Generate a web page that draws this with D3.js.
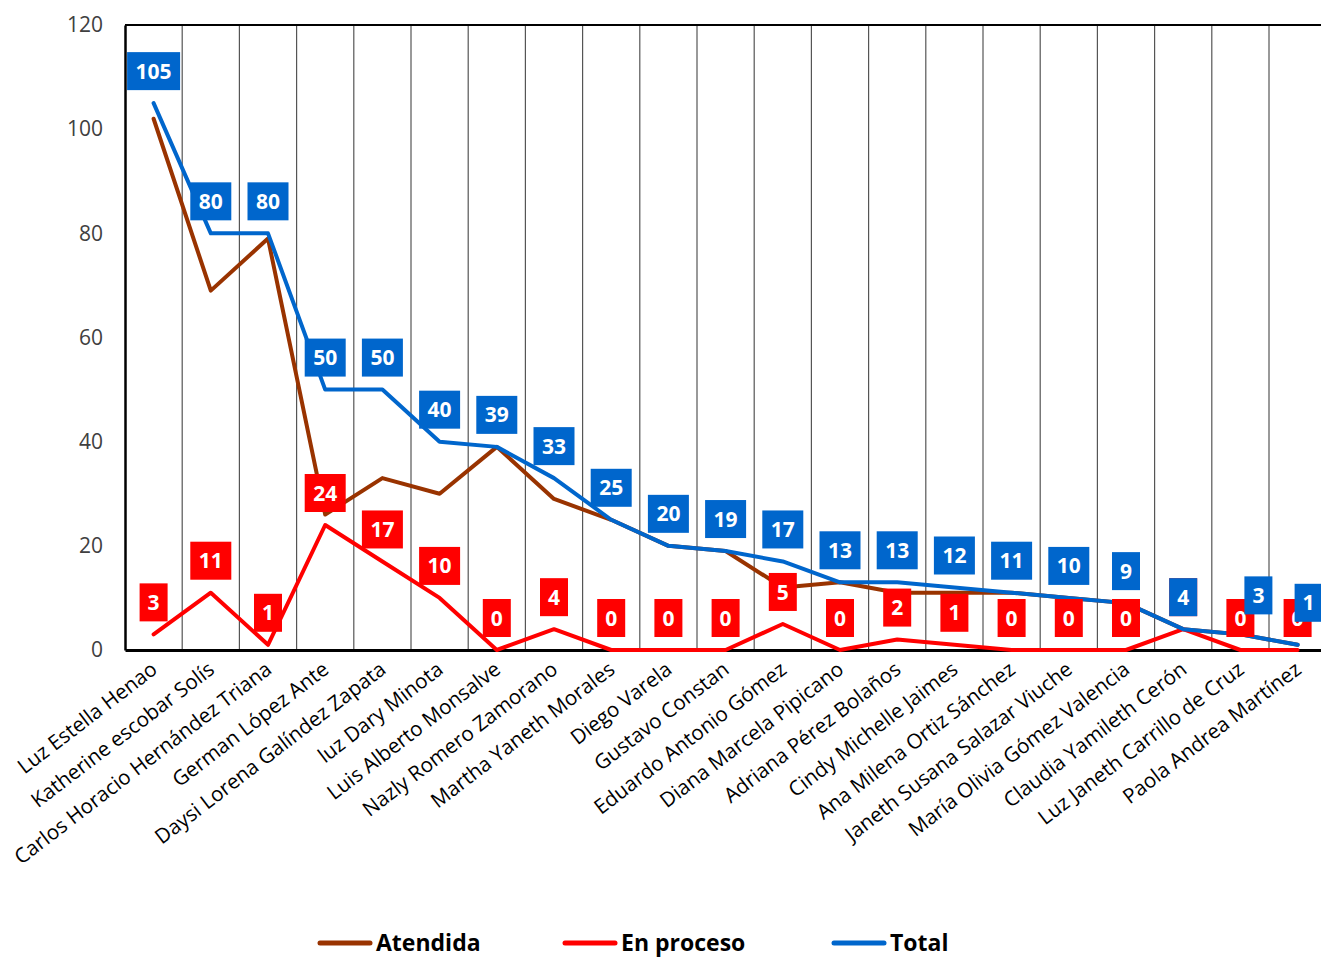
<!DOCTYPE html>
<html><head><meta charset="utf-8">
<script src="https://cdn.jsdelivr.net/npm/d3@7"></script>
<style>body{margin:0;background:#fff;} svg{display:block;font-family:"Open Sans",Lato,sans-serif;}</style>
</head><body>
<svg id="c" width="1321" height="957"></svg>
<script>
const categories = ["Luz Estella Henao","Katherine escobar Solís","Carlos Horacio Hernández Triana","German López Ante","Daysi Lorena Galíndez Zapata","luz Dary Minota","Luis Alberto Monsalve","Nazly Romero Zamorano","Martha Yaneth Morales","Diego Varela","Gustavo Constan","Eduardo Antonio Gómez","Diana Marcela Pipicano","Adriana Pérez Bolaños","Cindy Michelle Jaimes","Ana Milena Ortiz Sánchez","Janeth Susana Salazar Viuche","María Olivia Gómez Valencia","Claudia Yamileth Cerón","Luz Janeth Carrillo de Cruz","Paola Andrea Martínez"];
const atendida = [102,69,79,26,33,30,39,29,25,20,19,12,13,11,11,11,10,9,4,3,1];
const enProceso = [3,11,1,24,17,10,0,4,0,0,0,5,0,2,1,0,0,0,4,0,0];
const total = [105,80,80,50,50,40,39,33,25,20,19,17,13,13,12,11,10,9,4,3,1];
const yTicks = [0,20,40,60,80,100,120];
const seriesNames = ["Atendida","En proceso","Total"];
const colors = {"Atendida":"#993300","En proceso":"#FF0000","Total":"#0066CC"};

const svg = d3.select("#c");
const mLeft = 125, mTop = 25, mBottom = 650;
const step = 57.2;
const x = d3.scaleBand().domain(categories).range([mLeft, mLeft + step*categories.length]).padding(0);
const y = d3.scaleLinear().domain([0,120]).range([mBottom, mTop]);
const cx = c => x(c) + x.bandwidth()/2;

// vertical gridlines
svg.append("g").selectAll("line").data(categories.slice(1)).join("line")
  .attr("x1", d=>x(d)).attr("x2", d=>x(d)).attr("y1", mTop).attr("y2", mBottom)
  .attr("stroke", "#555").attr("stroke-width", 1.2);
// top border
svg.append("line").attr("x1", mLeft).attr("x2", 1321).attr("y1", mTop).attr("y2", mTop).attr("stroke","#000").attr("stroke-width",2);
// y axis
const ya = svg.append("g").attr("transform", `translate(${mLeft},0)`).call(d3.axisLeft(y).tickValues(yTicks).tickSize(0).tickPadding(22));
ya.select(".domain").attr("stroke","#000").attr("stroke-width",2.5);
ya.selectAll("text").attr("font-size", 21).attr("fill","#404040").attr("font-family","'Open Sans', Lato, sans-serif");
// x axis
const xa = svg.append("g").attr("transform", `translate(0,${mBottom})`).call(d3.axisBottom(x).tickSize(0).tickFormat(""));
xa.select(".domain").attr("stroke","#000").attr("stroke-width",3);
svg.append("g").selectAll("text").data(categories).join("text")
  .attr("transform", d=>`translate(${cx(d)+5},${mBottom+22}) rotate(-37.5)`)
  .attr("text-anchor","end").attr("font-size",20.6).attr("fill","#000").text(d=>d);

const line = d3.line().x((d,i)=>cx(categories[i])).y(d=>y(d));
const data = {"Atendida":atendida,"En proceso":enProceso,"Total":total};
seriesNames.forEach(s=>{
  svg.append("path").datum(data[s]).attr("d", line).attr("fill","none")
    .attr("stroke", colors[s]).attr("stroke-width",4).attr("stroke-linejoin","round").attr("stroke-linecap","round");
});
// labels (manual nudges for crowded last labels, as in the original)
const nudge = {"Total|Luz Janeth Carrillo de Cruz":[18,7], "Total|Paola Andrea Martínez":[11,10]};
["En proceso","Total"].forEach(s=>{
  const g = svg.append("g");
  data[s].forEach((v,i)=>{
    const n = nudge[s+"|"+categories[i]] || [0,0];
    const px = cx(categories[i]) + n[0], py = y(v) - 32 - n[1];
    const t = String(v);
    const w = t.length===1 ? 28 : (t.length===2 ? 41 : 53);
    g.append("rect").attr("x", px - w/2).attr("y", py - 19).attr("width", w).attr("height", 38).attr("fill", colors[s]);
    g.append("text").attr("x", px).attr("y", py).attr("dy","0.36em").attr("text-anchor","middle")
      .attr("font-size",21).attr("font-weight","bold").attr("fill","#fff").text(t);
  });
});
// legend
const legX = [318, 563, 832];
seriesNames.forEach((s,i)=>{
  svg.append("line").attr("x1", legX[i]+2).attr("x2", legX[i]+52).attr("y1", 943).attr("y2", 943)
    .attr("stroke", colors[s]).attr("stroke-width",5).attr("stroke-linecap","round");
  svg.append("text").attr("x", legX[i]+58).attr("y", 943).attr("dy","0.36em").attr("font-size",23).attr("font-weight","bold").attr("fill","#000").text(s);
});
</script>
</body></html>
